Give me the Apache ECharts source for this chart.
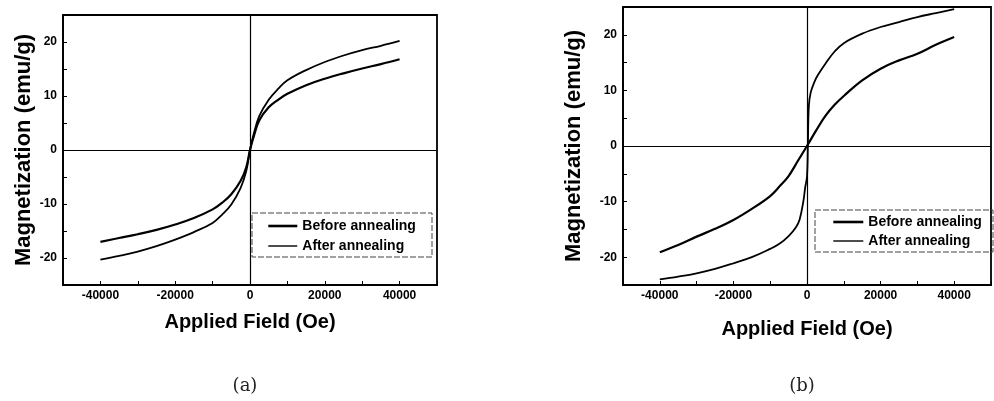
<!DOCTYPE html>
<html>
<head>
<meta charset="utf-8">
<script src="https://cdn.jsdelivr.net/npm/echarts@6/dist/echarts.min.js"></script>
<style>html,body{margin:0;padding:0;background:#fff;}#c{width:994px;height:401px;}</style>
</head>
<body>
<div id="c"></div>
<script>
// ---- data ----
const xTickLabels = [-40000, -20000, 0, 20000, 40000];
const yTickLabels = [-20, -10, 0, 10, 20];
const seriesNames = ['Before annealing', 'After annealing'];

// (a)
const fieldA = [-40000,-35000,-30000,-25000,-20000,-15000,-10000,-7500,-5000,-2500,-1000,0,1000,2500,5000,7500,10000,15000,20000,25000,30000,35000,40000];
const beforeA = [-17.0,-16.3,-15.6,-14.8,-13.8,-12.6,-11.0,-9.8,-8.2,-5.7,-3.2,0,2.5,5.5,7.9,9.3,10.4,12.0,13.2,14.2,15.1,15.9,16.8];
const afterA  = [-20.3,-19.6,-18.8,-17.8,-16.6,-15.2,-13.5,-12.0,-10.1,-7.0,-3.9,0,3.0,6.3,9.3,11.3,12.9,14.8,16.3,17.5,18.5,19.3,20.2];

// (b)
const fieldBBefore = [-40000,-35000,-30000,-25000,-20000,-15000,-10000,-7500,-5000,-2500,0,2500,5000,7500,10000,15000,20000,25000,30000,35000,40000];
const beforeB = [-19.1,-17.8,-16.3,-14.9,-13.3,-11.3,-9.0,-7.3,-5.4,-2.7,0,2.8,5.4,7.4,9.0,11.8,13.9,15.4,16.6,18.2,19.6];
const fieldBAfter = [-40000,-35000,-30000,-25000,-20000,-15000,-10000,-7500,-5000,-3000,-2000,-1000,-500,0,250,500,1000,2000,3000,5000,7500,10000,15000,20000,25000,30000,35000,40000];
const afterB = [-24.0,-23.5,-22.9,-22.1,-21.1,-20.0,-18.5,-17.6,-16.2,-14.6,-13.2,-10.0,-7.5,-5.5,0.5,7.2,9.6,11.5,12.8,14.8,17.0,18.5,20.2,21.4,22.3,23.2,23.9,24.6];

// ---- chart ----
const FONT = 'Liberation Sans, Arial, sans-serif';
const pairs = (xs, ys) => xs.map((x, i) => [x, ys[i]]);

function xAxis(gridIndex, nameGap) {
  return {
    type: 'value', gridIndex, min: -50000, max: 50000, interval: 10000,
    name: 'Applied Field (Oe)', nameLocation: 'middle', nameGap,
    nameTextStyle: { fontFamily: FONT, fontWeight: 'bold', fontSize: 20, color: '#000' },
    axisLine: { show: true, onZero: false, lineStyle: { color: '#000', width: 1.8 } },
    axisTick: { show: true, inside: true, length: 4, lineStyle: { color: '#000', width: 1 } },
    axisLabel: {
      margin: 5, fontFamily: FONT, fontWeight: 'bold', fontSize: 12, color: '#000',
      formatter: v => xTickLabels.includes(v) ? String(v) : ''
    },
    splitLine: { show: false }
  };
}
function yAxis(gridIndex, nameGap) {
  return {
    type: 'value', gridIndex, min: -25, max: 25, interval: 5,
    name: 'Magnetization (emu/g)', nameLocation: 'middle', nameGap,
    nameTextStyle: { fontFamily: FONT, fontWeight: 'bold', fontSize: 22, color: '#000' },
    axisLine: { show: true, onZero: false, lineStyle: { color: '#000', width: 1.8 } },
    axisTick: { show: true, inside: true, length: 4, lineStyle: { color: '#000', width: 1 } },
    axisLabel: {
      margin: 6, fontFamily: FONT, fontWeight: 'bold', fontSize: 12, color: '#000',
      formatter: v => yTickLabels.includes(v) ? String(v) : ''
    },
    splitLine: { show: false }
  };
}
const zeroLines = {
  silent: true, symbol: ['none', 'none'], label: { show: false },
  lineStyle: { color: '#000', width: 1.2, type: 'solid' },
  emphasis: { disabled: true },
  data: [{ xAxis: 0 }, { yAxis: 0 }]
};
function line(name, data, xi, width, withZero) {
  const s = {
    name, type: 'line', xAxisIndex: xi, yAxisIndex: xi, data,
    symbol: 'none', smooth: 0.4,
    lineStyle: { color: '#000', width },
    itemStyle: { color: '#000' },
    emphasis: { disabled: true }
  };
  if (withZero) s.markLine = zeroLines;
  return s;
}
function legend(left, top, textGap, itemWidth, gap) {
  return {
    data: [
      { name: seriesNames[0], lineStyle: { width: 2.6 } },
      { name: seriesNames[1], lineStyle: { width: 1.4 } }
    ],
    orient: 'vertical', left, top, padding: 0,
    itemWidth, itemHeight: 14, itemGap: gap, itemTextGap: textGap,
    selectedMode: false,
    itemStyle: { opacity: 0 },
    textStyle: { fontFamily: FONT, fontWeight: 'bold', fontSize: 14, color: '#000' }
  };
}

const chart = echarts.init(document.getElementById('c'), null, { renderer: 'canvas' });
chart.setOption({
  animation: false,
  backgroundColor: '#fff',
  grid: [
    { left: 63, top: 15, width: 374, height: 270, show: true, borderColor: '#000', borderWidth: 1.8, containLabel: false },
    { left: 623, top: 7, width: 380, height: 278, show: true, borderColor: '#000', borderWidth: 1.8, containLabel: false }
  ],
  xAxis: [xAxis(0, 27), xAxis(1, 34)],
  yAxis: [yAxis(0, 28), yAxis(1, 38)],
  legend: [legend(267, 219, 5, 29, 6), legend(832, 215, 8, 30, 5)],
  series: [
    line('Before annealing', pairs(fieldA, beforeA), 0, 2.2, true),
    line('After annealing', pairs(fieldA, afterA), 0, 1.8, false),
    line('Before annealing', pairs(fieldBBefore, beforeB), 1, 2.2, true),
    line('After annealing', pairs(fieldBAfter, afterB), 1, 1.8, false)
  ],
  graphic: [
    { type: 'rect', shape: { x: 252, y: 213, width: 180, height: 44 }, style: { fill: 'none', stroke: '#444', lineWidth: 1, lineDash: [6, 2] }, silent: true, z: 10 },
    { type: 'rect', shape: { x: 815, y: 210, width: 178, height: 42 }, style: { fill: 'none', stroke: '#444', lineWidth: 1, lineDash: [6, 2] }, silent: true, z: 10 },
    { type: 'text', x: 245, y: 386, style: { text: '(a)', fontFamily: 'DejaVu Serif', fontSize: 18, fill: '#222', align: 'center', verticalAlign: 'middle' }, silent: true },
    { type: 'text', x: 802, y: 386, style: { text: '(b)', fontFamily: 'DejaVu Serif', fontSize: 18, fill: '#222', align: 'center', verticalAlign: 'middle' }, silent: true }
  ]
});
</script>
</body>
</html>
